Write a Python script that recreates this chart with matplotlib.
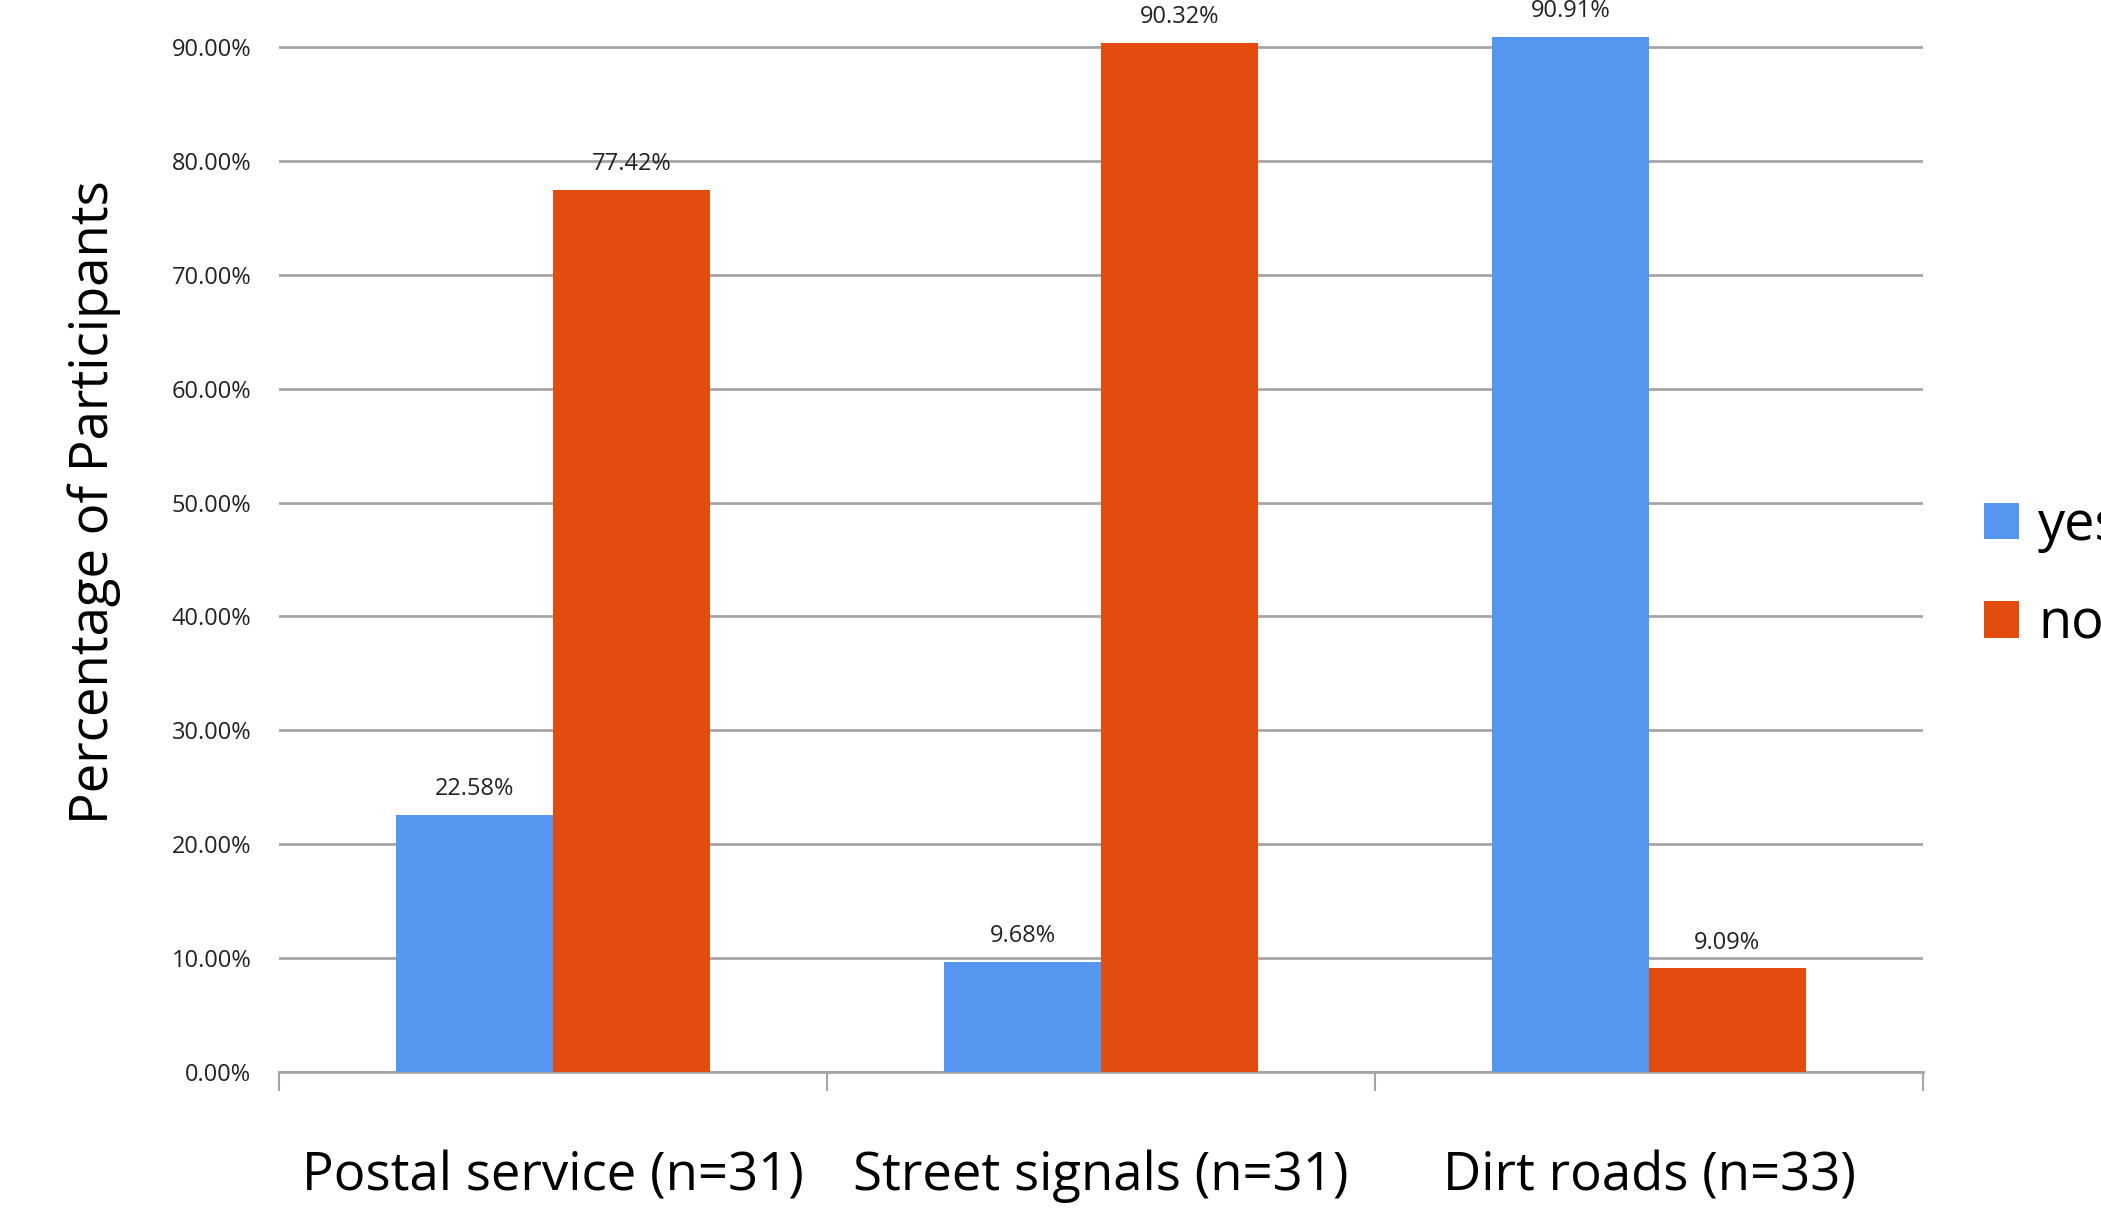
import matplotlib
matplotlib.use("Agg")
import matplotlib.pyplot as plt
import numpy as np

plt.rcParams['font.family'] = ['Open Sans', 'DejaVu Sans']

# --- data ---
categories = ["Postal service (n=31)", "Street signals (n=31)", "Dirt roads (n=33)"]
yes_vals = [0.2258, 0.0968, 0.9091]
no_vals = [0.7742, 0.9032, 0.0909]
series_names = ["yes", "no"]
yticks = [0.0, 0.1, 0.2, 0.3, 0.4, 0.5, 0.6, 0.7, 0.8, 0.9]

blue = "#5596EE"
orange = "#E34C0F"
grid_gray = "#A6A6A6"

fig = plt.figure(figsize=(21.01, 12.18), dpi=100)
ax = fig.add_axes([0.1328, 0.1199, 0.7825, 0.935])

x = np.arange(len(categories))
w = 0.286
b1 = ax.bar(x - w / 2, yes_vals, w, color=blue, label=series_names[0], zorder=3)
b2 = ax.bar(x + w / 2, no_vals, w, color=orange, label=series_names[1], zorder=3)

for bars in (b1, b2):
    for r in bars:
        h = r.get_height()
        ax.annotate(f"{h * 100:.2f}%", (r.get_x() + r.get_width() / 2, h),
                    xytext=(0, 10), textcoords="offset points",
                    ha="center", va="bottom", fontsize=17, color="#222222")

ax.set_xlim(-0.5, len(categories) - 0.5)
ax.set_ylim(0, 1.0)

ax.set_yticks(yticks)
ax.set_yticklabels([f"{t * 100:.2f}%" for t in yticks], fontsize=17, color="#222222")
ax.tick_params(axis="y", length=0, pad=20)
ax.yaxis.grid(True, color=grid_gray, linewidth=2, zorder=0)
ax.set_axisbelow(True)

# category boundaries as major ticks, names as minor ticks
ax.set_xticks(np.arange(len(categories) + 1) - 0.5)
ax.set_xticklabels([])
ax.tick_params(axis="x", which="major", length=14, width=1.5, color=grid_gray, direction="out")
ax.set_xticks(x, minor=True)
ax.set_xticklabels(categories, minor=True, fontsize=38)
ax.tick_params(axis="x", which="minor", length=0, pad=56)

for s in ["top", "right", "left"]:
    ax.spines[s].set_visible(False)
ax.spines["bottom"].set_color(grid_gray)
ax.spines["bottom"].set_linewidth(2)

ax.set_ylabel("Percentage of Participants", fontsize=38, labelpad=36)

fig.legend(handles=[b1, b2], labels=series_names, loc="center left",
           bbox_to_anchor=(0.921, 0.528), frameon=False, fontsize=39,
           handlelength=0.65, handleheight=0.65, handletextpad=0.35, labelspacing=0.8)

fig.savefig("out.png", dpi=100)
